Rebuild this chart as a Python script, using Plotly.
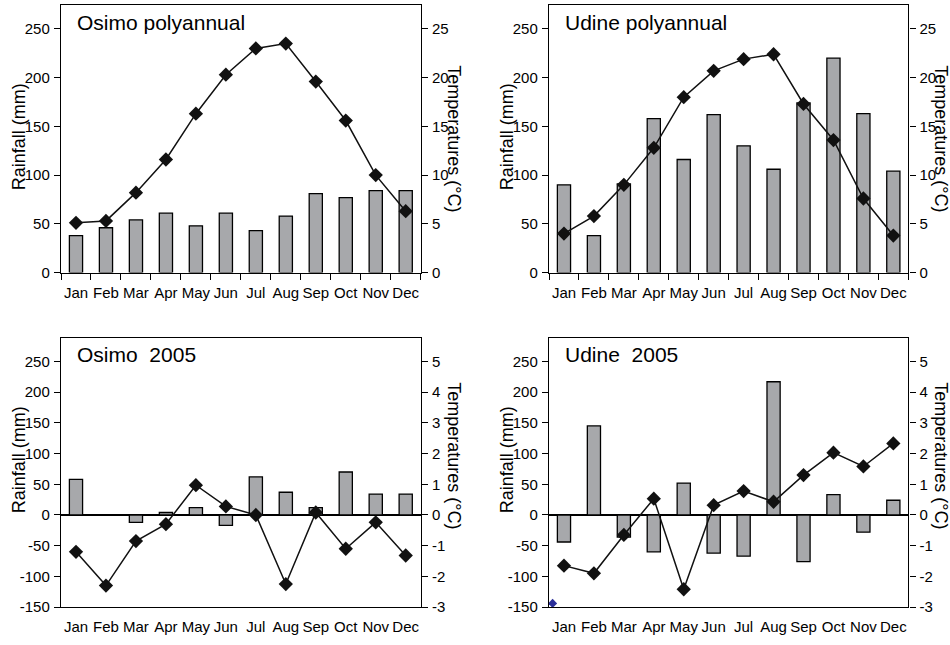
import plotly.graph_objects as go

months = ["Jan", "Feb", "Mar", "Apr", "May", "Jun", "Jul", "Aug", "Sep", "Oct", "Nov", "Dec"]

osimo_poly_rain = [38, 46, 54, 61, 48, 61, 43, 58, 81, 77, 84, 84]
osimo_poly_temp = [5.1, 5.3, 8.2, 11.6, 16.3, 20.3, 23.0, 23.5, 19.6, 15.6, 10.0, 6.3]
udine_poly_rain = [90, 38, 91, 158, 116, 162, 130, 106, 174, 220, 163, 104]
udine_poly_temp = [4.0, 5.8, 9.0, 12.8, 18.0, 20.7, 21.9, 22.4, 17.3, 13.6, 7.6, 3.8]
osimo_2005_rain = [58, 0, -12, 4, 12, -17, 62, 37, 12, 70, 34, 34]
osimo_2005_temp = [-1.2, -2.3, -0.85, -0.3, 0.97, 0.28, 0.0, -2.25, 0.08, -1.1, -0.24, -1.32]
udine_2005_rain = [-44, 145, -36, -60, 52, -62, -67, 217, -76, 33, -28, 24]
udine_2005_temp = [-1.65, -1.9, -0.65, 0.53, -2.42, 0.32, 0.78, 0.43, 1.3, 2.03, 1.58, 2.33]

# stray marker visible in the Udine 2005 panel
stray_x = [-0.38]
stray_y = [-144]

rain_ticks_poly = [0, 50, 100, 150, 200, 250]
temp_ticks_poly = [0, 5, 10, 15, 20, 25]
rain_ticks_2005 = [-150, -100, -50, 0, 50, 100, 150, 200, 250]
temp_ticks_2005 = [-3, -2, -1, 0, 1, 2, 3, 4, 5]

panels = [
    ("Osimo polyannual", osimo_poly_rain, osimo_poly_temp, "poly"),
    ("Udine polyannual", udine_poly_rain, udine_poly_temp, "poly"),
    ("Osimo  2005", osimo_2005_rain, osimo_2005_temp, "2005"),
    ("Udine  2005", udine_2005_rain, udine_2005_temp, "2005"),
]

W, H = 950, 645
def px(x):
    return x / W
def py(y):
    return 1 - y / H

xdoms = [[px(61), px(420.7)], [px(549), px(908.3)]]
ydoms = [[py(276), py(5)], [py(614.7), py(342.7)]]

FAM = "Liberation Sans, Arial, sans-serif"
TICKFONT = dict(family=FAM, size=15, color="black")
MONTHFONT = dict(family=FAM, size=15, color="black")
TITLEFONT = dict(family=FAM, size=18, color="black")
PANELFONT = dict(family=FAM, size=21, color="black")

fig = go.Figure()
layout = dict(
    width=W, height=H, margin=dict(l=0, r=0, t=0, b=0),
    paper_bgcolor="white", plot_bgcolor="white", showlegend=False,
)
annotations = []

centers = list(range(12))
bounds = [i - 0.5 for i in range(13)]

extra_ax = 9
for i, (title, rain, temp, kind) in enumerate(panels):
    col = i % 2
    row = i // 2
    xa = f"x{2*i+1}" if i else "x"
    ya = f"y{2*i+1}" if i else "y"
    ya2 = f"y{2*i+2}"
    xname = "xaxis" + (str(2*i+1) if i else "")
    yname = "yaxis" + (str(2*i+1) if i else "")
    y2name = "yaxis" + str(2*i+2)
    if kind == "poly":
        rrange = [0, 274.6]
        trange = [0, 27.46]
        rt, tt = rain_ticks_poly, temp_ticks_poly
    else:
        rrange = [-150, 287.5]
        trange = [-3, 5.75]
        rt, tt = rain_ticks_2005, temp_ticks_2005

    fig.add_trace(go.Bar(
        x=centers, y=rain, xaxis=xa, yaxis=ya,
        marker=dict(color="#a7a8ab", line=dict(color="black", width=1.3)),
        width=0.44,
    ))
    fig.add_trace(go.Scatter(
        x=centers, y=temp, xaxis=xa, yaxis=ya2, mode="lines+markers",
        line=dict(color="#111111", width=1.5),
        marker=dict(symbol="diamond", size=11, color="#111111"),
    ))

    xax = dict(
        domain=xdoms[col], anchor=ya, range=[-0.5, 11.5],
        tickmode="array", tickvals=centers, ticktext=months, tickangle=0,
        tickfont=MONTHFONT, showgrid=False, zeroline=False,
        showline=True, linecolor="black", linewidth=1.4, mirror=True,
        ticks="", ticklabelstandoff=6,
    )
    if kind == "poly":
        xax["minor"] = dict(tickmode="array", tickvals=bounds, ticks="outside",
                            ticklen=6, tickwidth=1.4, tickcolor="black", showgrid=False)
    layout[xname] = xax
    layout[yname] = dict(
        domain=ydoms[row], anchor=xa, range=rrange,
        tickmode="array", tickvals=rt, ticktext=[str(v) for v in rt],
        tickfont=TICKFONT, ticks="outside", ticklen=6, tickwidth=1.4, tickcolor="black",
        showgrid=False, showline=True, linecolor="black", linewidth=1.4,
        zeroline=(kind != "poly"), zerolinecolor="black", zerolinewidth=1.6,
        ticklabelstandoff=1,
    )
    layout[y2name] = dict(
        overlaying=ya, anchor=xa, side="right", range=trange,
        tickmode="array", tickvals=tt, ticktext=[str(v) for v in tt],
        tickfont=TICKFONT, ticks="outside", ticklen=6, tickwidth=1.4, tickcolor="black",
        showgrid=False, showline=True, linecolor="black", linewidth=1.4, zeroline=False,
        ticklabelstandoff=1,
    )

    if kind == "2005":
        zero_pos = ydoms[row][0] + (0 - rrange[0]) / (rrange[1] - rrange[0]) * (ydoms[row][1] - ydoms[row][0])
        for tdir in ("outside", "inside"):
            nm = f"xaxis{extra_ax}"
            layout[nm] = dict(
                overlaying=xa, anchor="free", position=zero_pos, domain=xdoms[col],
                range=[-0.5, 11.5], tickmode="array", tickvals=bounds,
                ticks=tdir, ticklen=5, tickwidth=1.4, tickcolor="black",
                showticklabels=False, showline=False, showgrid=False, zeroline=False,
            )
            extra_ax += 1

    # panel title
    x0 = 75 if col == 0 else 563
    y0 = 22.7 if row == 0 else 359.3
    annotations.append(dict(
        text=title, x=px(x0), y=py(y0), xref="paper", yref="paper",
        xanchor="left", yanchor="middle", showarrow=False, font=PANELFONT,
    ))
    # axis titles
    rx = 19 if col == 0 else 507
    ry = 139 if row == 0 else 466
    annotations.append(dict(
        text="Rainfall (mm)", x=px(rx), y=py(ry), xref="paper", yref="paper",
        xanchor="center", yanchor="middle", textangle=-90, showarrow=False, font=TITLEFONT,
    ))
    tx = 454 if col == 0 else 941
    ty = 140 if row == 0 else 461
    annotations.append(dict(
        text="Temperatures (°C)", x=px(tx), y=py(ty), xref="paper", yref="paper",
        xanchor="center", yanchor="middle", textangle=90, showarrow=False, font=TITLEFONT,
    ))

fig.add_trace(go.Scatter(
    x=stray_x, y=stray_y, xaxis="x7", yaxis="y7", mode="markers",
    marker=dict(symbol="diamond", size=7, color="#2b2f9a"),
))

layout["annotations"] = annotations
fig.update_layout(**layout)
fig.write_html("out.html", config={"displayModeBar": False},
               post_script="document.body.style.margin='0';document.body.style.overflow='hidden';")
